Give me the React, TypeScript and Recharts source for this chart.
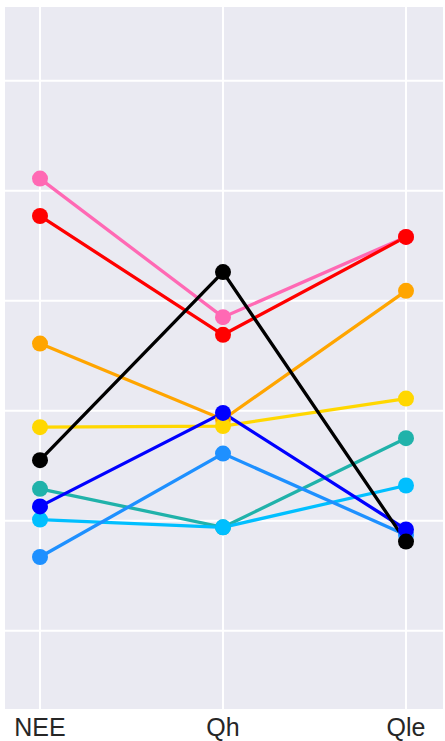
import { CartesianGrid, Line, LineChart, XAxis, YAxis } from "recharts"

const categories = ["NEE", "Qh", "Qle"]

// values, in grid units (grid lines at 1..6)
const hotpink = [5.11, 3.85, 4.58]
const red = [4.77, 3.69, 4.58]
const orange = [3.61, 2.92, 4.09]
const gold = [2.85, 2.86, 3.11]
const seagreen = [2.29, 1.94, 2.75]
const deepsky = [2.01, 1.94, 2.32]
const dodger = [1.67, 2.61, 1.87]
const blue = [2.13, 2.98, 1.92]
const black = [2.55, 4.26, 1.81]

const yTicks = [1, 2, 3, 4, 5, 6]

const series = [
  { key: "hotpink", values: hotpink, color: "#FF69B4" },
  { key: "red", values: red, color: "#FF0000" },
  { key: "orange", values: orange, color: "#FFA500" },
  { key: "gold", values: gold, color: "#FFD700" },
  { key: "seagreen", values: seagreen, color: "#20B2AA" },
  { key: "deepsky", values: deepsky, color: "#00BFFF" },
  { key: "dodger", values: dodger, color: "#1E90FF" },
  { key: "blue", values: blue, color: "#0000FF" },
  { key: "black", values: black, color: "#000000" },
]

const data = categories.map((name, i) => {
  const row: Record<string, string | number> = { name }
  series.forEach((s) => (row[s.key] = s.values[i]))
  return row
})

export default function App() {
  return (
    <div style={{ position: "absolute", left: 0, top: 0, width: 445, height: 741, background: "#fff" }}>
      <LineChart width={445} height={741} data={data} margin={{ top: 6, right: 1, bottom: 0, left: 4 }}>
        <CartesianGrid fill="#EAEAF2" stroke="#ffffff" strokeWidth={2} />
        <XAxis
          dataKey="name"
          height={31}
          padding={{ left: 36, right: 38 }}
          axisLine={false}
          tickLine={false}
          tick={{ fill: "#262626", fontSize: 25, fontFamily: "Liberation Sans, Arial, sans-serif" }}
        />
        <YAxis hide width={0} type="number" domain={[0.279, 6.679]} ticks={yTicks} allowDataOverflow />
        {series.map((s) => (
          <Line
            key={s.key}
            dataKey={s.key}
            stroke={s.color}
            strokeWidth={3.3}
            dot={{ r: 8, fill: s.color, stroke: "none" }}
            activeDot={false}
            isAnimationActive={false}
          />
        ))}
      </LineChart>
    </div>
  )
}
